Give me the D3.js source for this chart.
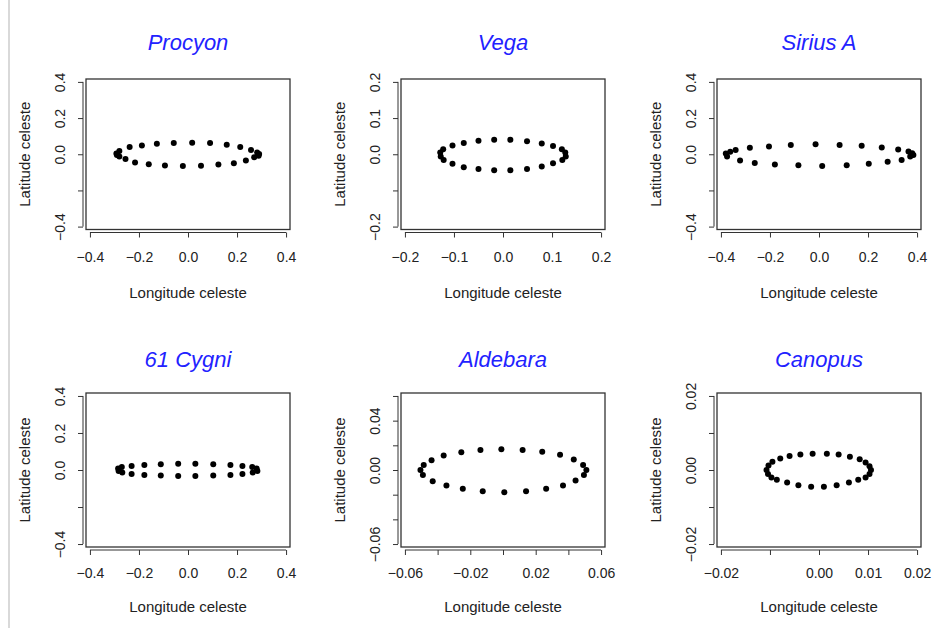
<!DOCTYPE html>
<meta charset="utf-8">

<style type="text/css">
  body {
    margin: 0;
    background: #fff;
  }
  svg {
    display: block;
    font-family: "Liberation Sans", Arial, Helvetica, sans-serif;
  }
  .title {
    fill: #2222ff;
    font-style: italic;
    font-size: 22px;
  }
  .axis-title {
    fill: #222;
    font-size: 15px;
  }
</style>

<body>
</body>

<script src="https://cdn.jsdelivr.net/npm/d3@7"></script>

<script>

// star names, in panel order (row by row)
var starNames = ["Procyon", "Vega", "Sirius A", "61 Cygni", "Aldebara", "Canopus"];

// apparent positions (longitude, latitude)
var procyonLon = [-0.292, -0.28, -0.238, -0.188, -0.127, -0.058, 0.017, 0.09, 0.158, 0.213, 0.257, 0.282, 0.29,
  0.288, 0.27, 0.236, 0.187, 0.124, 0.053, -0.021, -0.094, -0.16, -0.216, -0.255, -0.28, -0.29];
var procyonLat = [0.004, 0.018, 0.04, 0.049, 0.058, 0.062, 0.064, 0.062, 0.052, 0.04, 0.023, 0.01, 0.002,
  -0.008, -0.016, -0.035, -0.05, -0.057, -0.064, -0.065, -0.062, -0.055, -0.046, -0.026, -0.012, -0.004];

var vegaLon = [-0.128, -0.122, -0.103, -0.08, -0.05, -0.018, 0.015, 0.049, 0.079, 0.102, 0.12, 0.127,
  0.128, 0.121, 0.102, 0.079, 0.049, 0.015, -0.018, -0.05, -0.08, -0.103, -0.121, -0.127];
var vegaLat = [0.005, 0.014, 0.024, 0.031, 0.037, 0.04, 0.04, 0.036, 0.03, 0.023, 0.014, 0.005,
  -0.006, -0.016, -0.025, -0.034, -0.041, -0.044, -0.044, -0.041, -0.036, -0.026, -0.016, -0.006];

var siriusLon = [-0.38, -0.362, -0.34, -0.282, -0.204, -0.115, -0.014, 0.084, 0.174, 0.256, 0.323, 0.365, 0.38,
  0.385, 0.372, 0.337, 0.28, 0.203, 0.113, 0.013, -0.084, -0.18, -0.262, -0.322, -0.375];
var siriusLat = [0.004, 0.014, 0.024, 0.036, 0.043, 0.051, 0.055, 0.051, 0.047, 0.038, 0.026, 0.015, 0.006,
  -0.004, -0.012, -0.032, -0.042, -0.053, -0.061, -0.065, -0.061, -0.057, -0.049, -0.034, -0.012];

var cygniLon = [-0.285, -0.27, -0.23, -0.178, -0.111, -0.04, 0.03, 0.103, 0.173, 0.222, 0.262, 0.28,
  0.283, 0.264, 0.222, 0.173, 0.103, 0.03, -0.04, -0.111, -0.178, -0.23, -0.268, -0.283];
var cygniLat = [0.008, 0.016, 0.022, 0.027, 0.031, 0.034, 0.034, 0.031, 0.027, 0.022, 0.016, 0.008,
  -0.006, -0.014, -0.022, -0.027, -0.03, -0.032, -0.032, -0.03, -0.027, -0.022, -0.014, -0.006];

var aldebaraLon = [-0.0505, -0.0485, -0.0437, -0.0363, -0.0255, -0.0138, -0.001, 0.012, 0.024, 0.0349, 0.0433, 0.049,
  0.051, 0.0495, 0.0444, 0.0367, 0.0264, 0.0141, 0.0008, -0.0124, -0.0246, -0.0346, -0.043, -0.049];
var aldebaraLat = [0.0, 0.004, 0.008, 0.0117, 0.0143, 0.0163, 0.0168, 0.0163, 0.0148, 0.0123, 0.0086, 0.004,
  0.0, -0.004, -0.0086, -0.0126, -0.0152, -0.0172, -0.018, -0.0172, -0.0152, -0.0126, -0.0092, -0.004];

var canopusLon = [-0.0107, -0.0103, -0.0095, -0.0079, -0.006, -0.0038, -0.0013, 0.0016, 0.004, 0.0063, 0.0083, 0.0095, 0.0103,
  0.0106, 0.0103, 0.0095, 0.008, 0.0061, 0.0036, 0.001, -0.0016, -0.0042, -0.0065, -0.0086, -0.0097, -0.0104];
var canopusLat = [0.0, 0.0012, 0.0022, 0.0031, 0.0038, 0.0042, 0.0044, 0.0044, 0.0042, 0.0036, 0.0029, 0.002, 0.001,
  0.0, -0.0011, -0.002, -0.0026, -0.0034, -0.0041, -0.0045, -0.0045, -0.0041, -0.0034, -0.0026, -0.002, -0.0011];

var starLon = [procyonLon, vegaLon, siriusLon, cygniLon, aldebaraLon, canopusLon];
var starLat = [procyonLat, vegaLat, siriusLat, cygniLat, aldebaraLat, canopusLat];

// axis limits (same on both axes), ticks and the tick labels R actually printed
var limits = [0.4, 0.2, 0.4, 0.4, 0.06, 0.02];
var decimals = [1, 1, 1, 1, 2, 2];

var xTicks = [
  [-0.4, -0.2, 0, 0.2, 0.4],
  [-0.2, -0.1, 0, 0.1, 0.2],
  [-0.4, -0.2, 0, 0.2, 0.4],
  [-0.4, -0.2, 0, 0.2, 0.4],
  [-0.06, -0.04, -0.02, 0, 0.02, 0.04, 0.06],
  [-0.02, -0.01, 0, 0.01, 0.02]
];
var xLabels = [
  [-0.4, -0.2, 0, 0.2, 0.4],
  [-0.2, -0.1, 0, 0.1, 0.2],
  [-0.4, -0.2, 0, 0.2, 0.4],
  [-0.4, -0.2, 0, 0.2, 0.4],
  [-0.06, -0.02, 0.02, 0.06],
  [-0.02, 0, 0.01, 0.02]
];
var yTicks = [
  [-0.4, -0.2, 0, 0.2, 0.4],
  [-0.2, -0.1, 0, 0.1, 0.2],
  [-0.4, -0.2, 0, 0.2, 0.4],
  [-0.4, -0.2, 0, 0.2, 0.4],
  [-0.06, -0.04, -0.02, 0, 0.02, 0.04, 0.06],
  [-0.02, -0.01, 0, 0.01, 0.02]
];
var yLabels = [
  [-0.4, 0, 0.2, 0.4],
  [-0.2, 0, 0.1, 0.2],
  [-0.4, 0, 0.2, 0.4],
  [-0.4, 0, 0.2, 0.4],
  [-0.06, 0, 0.04],
  [-0.02, 0, 0.02]
];

// panel geometry
var colLeft = [86, 401, 717],
    panelW = 204;
var rowTop = [79, 393],
    rowBottom = [229.5, 547];
var titleOff = [29, 26.5],   // title baseline above the box
    tickLabOff = [32.5, 31],  // x tick label baseline below the box
    xTitleOff = [68, 65];     // x title baseline below the box

var svg = d3.select("body").append("svg")
    .attr("width", 932)
    .attr("height", 628);

// thin grey rule down the left side
svg.append("rect")
    .attr("x", 8)
    .attr("y", 0)
    .attr("width", 2)
    .attr("height", 628)
    .attr("fill", "#d9d9d9");

starNames.forEach(function(name, i) {
  var col = i % 3,
      row = Math.floor(i / 3);
  var left = colLeft[col],
      right = left + panelW,
      top = rowTop[row],
      bottom = rowBottom[row];

  var lim = limits[i] * 1.04; // R pads the range by 4%
  var x = d3.scaleLinear().domain([-lim, lim]).range([left, right]);
  var y = d3.scaleLinear().domain([-lim, lim]).range([bottom, top]);
  var fmt = d3.format("." + decimals[i] + "f");

  var g = svg.append("g").attr("class", "panel");

  // x axis, drawn a little below the box like R does
  var xaxis = d3.axisBottom(x)
      .tickValues(xTicks[i])
      .tickSize(5)
      .tickSizeOuter(0)
      .tickFormat(function(d) { return xLabels[i].indexOf(d) >= 0 ? fmt(d) : ""; });

  var gx = g.append("g")
      .attr("transform", "translate(0," + (bottom + 3) + ")")
      .call(xaxis)
      .attr("color", "#333")
      .attr("font-size", 14)
      .attr("font-family", null);
  gx.select(".domain").remove();
  gx.append("line")
      .attr("x1", x(xTicks[i][0]))
      .attr("x2", x(xTicks[i][xTicks[i].length - 1]))
      .attr("stroke", "#333");
  gx.selectAll(".tick text")
      .attr("fill", "#222")
      .attr("y", tickLabOff[row] - 3)
      .attr("dy", 0);

  // y axis with rotated labels
  var yaxis = d3.axisLeft(y)
      .tickValues(yTicks[i])
      .tickSize(5)
      .tickSizeOuter(0)
      .tickFormat(function(d) { return yLabels[i].indexOf(d) >= 0 ? fmt(d) : ""; });

  var gy = g.append("g")
      .attr("transform", "translate(" + (left - 3) + ",0)")
      .call(yaxis)
      .attr("color", "#333")
      .attr("font-size", 14)
      .attr("font-family", null);
  gy.select(".domain").remove();
  gy.append("line")
      .attr("y1", y(yTicks[i][0]))
      .attr("y2", y(yTicks[i][yTicks[i].length - 1]))
      .attr("stroke", "#333");
  gy.selectAll(".tick text")
      .attr("fill", "#222")
      .attr("transform", "rotate(-90)")
      .attr("x", 0)
      .attr("y", -18)
      .attr("dy", 0)
      .attr("text-anchor", "middle");

  // plot frame
  g.append("rect")
      .attr("x", left)
      .attr("y", top)
      .attr("width", right - left)
      .attr("height", bottom - top)
      .attr("fill", "none")
      .attr("stroke", "#333")
      .attr("stroke-width", 1.3);

  // the points
  g.selectAll("circle")
      .data(d3.zip(starLon[i], starLat[i]))
      .enter()
      .append("circle")
      .attr("cx", function(d) { return x(d[0]); })
      .attr("cy", function(d) { return y(d[1]); })
      .attr("r", 3)
      .attr("fill", "#000");

  // titles
  g.append("text")
      .attr("class", "title")
      .attr("x", (left + right) / 2)
      .attr("y", top - titleOff[row])
      .attr("text-anchor", "middle")
      .text(name);

  g.append("text")
      .attr("class", "axis-title")
      .attr("x", (left + right) / 2)
      .attr("y", bottom + xTitleOff[row])
      .attr("text-anchor", "middle")
      .text("Longitude celeste");

  g.append("text")
      .attr("class", "axis-title")
      .attr("transform", "translate(" + (left - 56) + "," + ((top + bottom) / 2) + ") rotate(-90)")
      .attr("text-anchor", "middle")
      .text("Latitude celeste");
});

</script>
